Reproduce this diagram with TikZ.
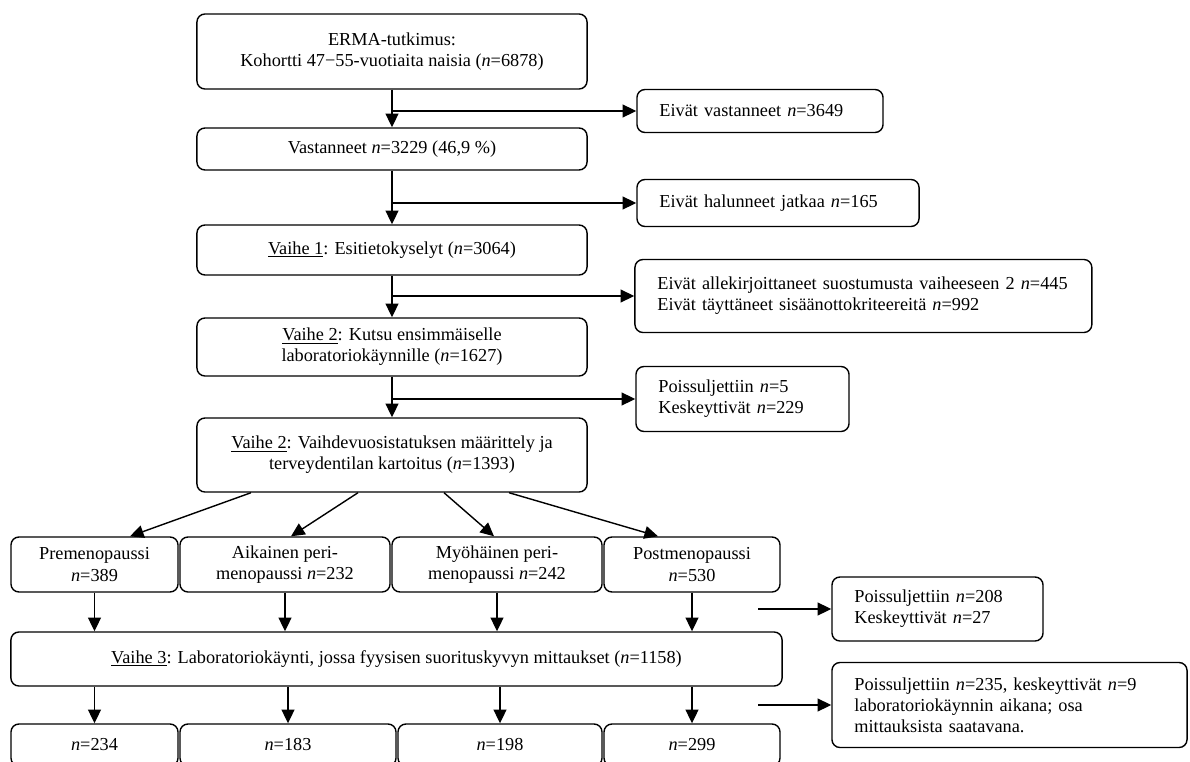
\documentclass[tikz,border=0pt]{standalone}
\usepackage{fontspec}
\setmainfont{Liberation Serif}
\usetikzlibrary{arrows.meta, calc}
\newcommand{\Nn}{\textit{n}}
\tikzset{
	stagebox/.style={rectangle, draw=black, line width=1pt, rounded corners=2mm,
		fill=white, align=center, inner sep=2pt,
		font=\fontsize{13}{15}\selectfont},
	exclbox/.style={stagebox, align=left, inner xsep=0.56cm},
	flowarr/.style={-{Triangle[length=3.4mm, width=3.2mm]}, line width=1pt, draw=black}
}
\begin{document}
\begin{tikzpicture}[x=0.025cm, y=-0.025cm]
	\clip (0,0) rectangle (1190,762);
	\fill[white] (0,0) rectangle (1190,762);
	% main column
	\node[stagebox, minimum width=9.75cm, minimum height=1.875cm] (erma) at (392,51.5)
		{ERMA-tutkimus:\\Kohortti 47−55-vuotiaita naisia (\Nn=6878)};
	\node[stagebox, minimum width=9.75cm, minimum height=1.05cm] (vast) at (392,149)
		{Vastanneet \Nn=3229 (46,9 \%)};
	\node[stagebox, minimum width=9.75cm, minimum height=1.25cm] (v1) at (392,250)
		{\underline{Vaihe 1}: Esitietokyselyt (\Nn=3064)};
	\node[stagebox, minimum width=9.75cm, minimum height=1.45cm] (kutsu) at (392,347)
		{\underline{Vaihe 2}: Kutsu ensimmäiselle\\laboratoriokäynnille (\Nn=1627)};
	\node[stagebox, minimum width=9.75cm, minimum height=1.85cm] (vaihde) at (392,455)
		{\underline{Vaihe 2}: Vaihdevuosistatuksen määrittely ja\\terveydentilan kartoitus (\Nn=1393)};
	% exclusions on the right
	\node[exclbox, text width=5.03cm, minimum height=1.075cm] (nv) at (760,111)
		{Eivät vastanneet \Nn=3649};
	\node[exclbox, text width=5.93cm, minimum height=1.175cm] (nh) at (778,203)
		{Eivät halunneet jatkaa \Nn=165};
	\node[exclbox, text width=10.3cm, minimum height=1.825cm] (ea) at (863.4,296)
		{Eivät allekirjoittaneet suostumusta vaiheeseen 2 \Nn=445\\Eivät täyttäneet sisäänottokriteereitä \Nn=992};
	\node[exclbox, text width=4.205cm, minimum height=1.625cm] (pk) at (742.5,399)
		{Poissuljettiin \Nn=5\\Keskeyttivät \Nn=229};
	% menopause groups
	\node[stagebox, minimum width=4.175cm, minimum height=1.375cm] (pre) at (94.5,564.5)
		{Premenopaussi\\\Nn=389};
	\node[stagebox, minimum width=5.25cm, minimum height=1.375cm] (aik) at (285,564.5)
		{Aikainen peri-\\menopaussi \Nn=232};
	\node[stagebox, minimum width=5.25cm, minimum height=1.375cm] (myo) at (497,564.5)
		{Myöhäinen peri-\\menopaussi \Nn=242};
	\node[stagebox, minimum width=4.4cm, minimum height=1.375cm] (post) at (692,564.5)
		{Postmenopaussi\\\Nn=530};
	\node[stagebox, minimum width=19.275cm, minimum height=1.35cm] (v3) at (396.5,659)
		{\underline{Vaihe 3}: Laboratoriokäynti, jossa fyysisen suorituskyvyn mittaukset (\Nn=1158)};
	\node[stagebox, minimum width=4.175cm, minimum height=1.05cm] (b1) at (94.5,745) {\Nn=234};
	\node[stagebox, minimum width=5.4cm, minimum height=1.05cm] (b2) at (288,745) {\Nn=183};
	\node[stagebox, minimum width=5.1cm, minimum height=1.05cm] (b3) at (500,745) {\Nn=198};
	\node[stagebox, minimum width=4.4cm, minimum height=1.05cm] (b4) at (692,745) {\Nn=299};
	\node[exclbox, text width=4.155cm, minimum height=1.6cm] (r208) at (937.5,609)
		{Poissuljettiin \Nn=208\\Keskeyttivät \Nn=27};
	\node[exclbox, text width=7.755cm, minimum height=2.125cm] (r235) at (1009.5,705)
		{Poissuljettiin \Nn=235, keskeyttivät \Nn=9\\laboratoriokäynnin aikana; osa\\mittauksista saatavana.};
	\coordinate (s208) at (758,609);
	\coordinate (s235) at (758,705);
	% connectors
	\draw[flowarr] (erma) -- (vast);
	\draw[flowarr] (vast) -- (v1);
	\draw[flowarr] (v1) -- (kutsu);
	\draw[flowarr] (kutsu) -- (vaihde);
	\draw[flowarr] (erma.south |- nv.west) -- (nv.west);
	\draw[flowarr] (vast.south |- nh.west) -- (nh.west);
	\draw[flowarr] (v1.south |- ea.west) -- (ea.west);
	\draw[flowarr] (kutsu.south |- pk.west) -- (pk.west);
	\draw[flowarr] ($(vaihde.south)+(-141,0)$) -- ($(pre.north)+(35.5,0)$);
	\draw[flowarr] ($(vaihde.south)+(-34,0)$) -- ($(aik.north)+(6,0)$);
	\draw[flowarr] ($(vaihde.south)+(52,0)$) -- ($(myo.north)+(-3,0)$);
	\draw[flowarr] ($(vaihde.south)+(117,0)$) -- ($(post.north)+(-34,0)$);
	\foreach \g in {pre, aik, myo, post}
		\draw[flowarr] (\g.south) -- (\g.south |- v3.north);
	\foreach \b in {b1, b2, b3, b4}
		\draw[flowarr] (v3.south -| \b.north) -- (\b.north);
	\draw[flowarr] (s208) -- (r208.west);
	\draw[flowarr] (s235) -- (r235.west);
\end{tikzpicture}
\end{document}
